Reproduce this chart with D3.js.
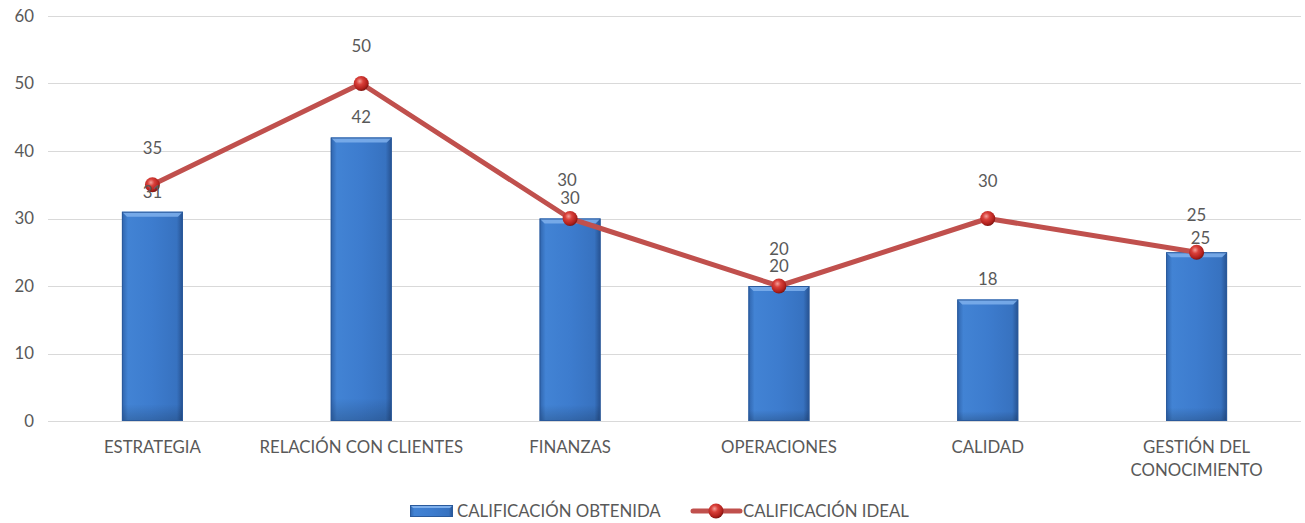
<!DOCTYPE html>
<html>
<head>
<meta charset="utf-8">
<script src="https://cdn.jsdelivr.net/npm/d3@7"></script>
<style>
  html, body { margin: 0; padding: 0; background: #fff; }
  svg { display: block; font-family: "Lato", "Open Sans", sans-serif; }
</style>
</head>
<body>
<svg id="chart" width="1305" height="523"></svg>
<script>
// Areas evaluated and their scores
const categories = [
  ["ESTRATEGIA"],
  ["RELACIÓN CON CLIENTES"],
  ["FINANZAS"],
  ["OPERACIONES"],
  ["CALIDAD"],
  ["GESTIÓN DEL", "CONOCIMIENTO"]
];
const obtained = [31, 42, 30, 20, 18, 25];
const ideal = [35, 50, 30, 20, 30, 25];
const yTicks = [0, 10, 20, 30, 40, 50, 60];
const seriesNames = ["CALIFICACIÓN OBTENIDA", "CALIFICACIÓN IDEAL"];

const svg = d3.select("#chart");
const margin = { top: 16, right: 4, bottom: 102, left: 48 };
const W = 1305, H = 523;
const x = d3.scaleBand()
  .domain(d3.range(categories.length))
  .range([margin.left, W - margin.right])
  .paddingInner(0).paddingOuter(0);
const y = d3.scaleLinear().domain([0, 60]).range([H - margin.bottom, margin.top]);

const textColor = "#595959";
const fontSize = 16.8;
const defs = svg.append("defs");

// Column fill: horizontal shading plus bevelled edges
const barGrad = defs.append("linearGradient").attr("id", "barGrad")
  .attr("x1", "0").attr("x2", "1").attr("y1", "0").attr("y2", "0");
[["0%", "#2f64ac"], ["10%", "#4283d4"], ["50%", "#3d7cce"], ["90%", "#3772c0"], ["100%", "#26518f"]]
  .forEach(([o, c]) => barGrad.append("stop").attr("offset", o).attr("stop-color", c));
const barGradV = defs.append("linearGradient").attr("id", "barGradV")
  .attr("x1", "0").attr("x2", "0").attr("y1", "0").attr("y2", "1");
[["0%", "#000000", 0.0], ["92%", "#000000", 0.0], ["100%", "#000000", 0.18]]
  .forEach(([o, c, a]) => barGradV.append("stop").attr("offset", o).attr("stop-color", c).attr("stop-opacity", a));

// Marker sphere
const ball = defs.append("radialGradient").attr("id", "ball")
  .attr("cx", "40%").attr("cy", "35%").attr("r", "65%");
[["0%", "#f4a09a"], ["35%", "#d9403a"], ["80%", "#b0201c"], ["100%", "#7e1512"]]
  .forEach(([o, c]) => ball.append("stop").attr("offset", o).attr("stop-color", c));

// Gridlines
svg.append("g")
  .selectAll("line").data(yTicks).join("line")
  .attr("x1", margin.left).attr("x2", W - margin.right)
  .attr("y1", d => Math.round(y(d)) + 0.5).attr("y2", d => Math.round(y(d)) + 0.5)
  .attr("stroke", "#d9d9d9").attr("stroke-width", 1);

// Y axis labels
const yAxis = d3.axisLeft(y).tickValues(yTicks).tickSize(0).tickPadding(14);
svg.append("g").attr("transform", `translate(${margin.left},0)`).call(yAxis)
  .call(g => g.select(".domain").remove())
  .call(g => g.selectAll("text").attr("fill", textColor).attr("font-size", fontSize).attr("font-family", "Lato, sans-serif"));

// Columns
const barW = 61;
const bars = svg.append("g");
obtained.forEach((v, i) => {
  const cx = x(i) + x.bandwidth() / 2;
  const x0 = cx - barW / 2, y0 = y(v), h = y(0) - y(v);
  bars.append("rect").attr("x", x0).attr("y", y0).attr("width", barW).attr("height", h)
    .attr("fill", "url(#barGrad)");
  bars.append("rect").attr("x", x0).attr("y", y0).attr("width", barW).attr("height", h)
    .attr("fill", "url(#barGradV)");
  // bevel: light top edge
  const b = 5;
  bars.append("polygon")
    .attr("points", [[x0, y0], [x0 + barW, y0], [x0 + barW - b, y0 + b], [x0 + b, y0 + b]].join(" "))
    .attr("fill", "#7fb0ec").attr("opacity", 0.85);
  bars.append("rect").attr("x", x0 + 0.5).attr("y", y0 + 0.5).attr("width", barW - 1).attr("height", h - 1)
    .attr("fill", "none").attr("stroke", "#2a5a9c").attr("stroke-width", 1);
});

// Ideal-score line
const line = d3.line()
  .x((d, i) => x(i) + x.bandwidth() / 2)
  .y(d => y(d));
svg.append("path").datum(ideal)
  .attr("d", line)
  .attr("fill", "none").attr("stroke", "#c0504d").attr("stroke-width", 5)
  .attr("stroke-linejoin", "round");
svg.append("g").selectAll("circle").data(ideal).join("circle")
  .attr("cx", (d, i) => x(i) + x.bandwidth() / 2)
  .attr("cy", d => y(d))
  .attr("r", 7.5)
  .attr("fill", "url(#ball)");

// Value labels; a few are nudged so stacked pairs stay legible
const barLabelNudge = { 5: [4, 6] };
const lineLabelNudge = { 2: [-3, -1] };
const lbl = svg.append("g").attr("fill", textColor).attr("font-size", fontSize)
  .attr("text-anchor", "middle").attr("font-family", "Lato, sans-serif");
obtained.forEach((v, i) => {
  const [dx, dy] = barLabelNudge[i] || [0, 0];
  lbl.append("text").attr("x", x(i) + x.bandwidth() / 2 + dx).attr("y", y(v) - 20 + dy)
    .attr("dy", "0.35em").text(v);
});
ideal.forEach((v, i) => {
  const [dx, dy] = lineLabelNudge[i] || [0, 0];
  lbl.append("text").attr("x", x(i) + x.bandwidth() / 2 + dx).attr("y", y(v) - 37 + dy)
    .attr("dy", "0.35em").text(v);
});

// Category labels
const cat = svg.append("g").attr("fill", textColor).attr("font-size", fontSize)
  .attr("text-anchor", "middle").attr("font-family", "Lato, sans-serif");
categories.forEach((lines, i) => {
  const t = cat.append("text").attr("x", x(i) + x.bandwidth() / 2).attr("y", 447).attr("dy", "0.35em");
  lines.forEach((s, k) => t.append("tspan").attr("x", x(i) + x.bandwidth() / 2).attr("dy", k === 0 ? "0.35em" : 23).text(s));
});

// Legend
const leg = svg.append("g").attr("font-size", fontSize).attr("fill", textColor).attr("font-family", "Lato, sans-serif");
leg.append("rect").attr("x", 410).attr("y", 505).attr("width", 43).attr("height", 12).attr("fill", "url(#barGrad)");
leg.append("polygon").attr("points", "410,505 453,505 450,508 413,508").attr("fill", "#7fb0ec");
leg.append("rect").attr("x", 410.5).attr("y", 505.5).attr("width", 42).attr("height", 11).attr("fill", "none").attr("stroke", "#2a5a9c");
leg.append("text").attr("x", 457).attr("y", 511).attr("dy", "0.35em").text(seriesNames[0]);
leg.append("line").attr("x1", 693).attr("x2", 740).attr("y1", 511).attr("y2", 511)
  .attr("stroke", "#c0504d").attr("stroke-width", 5).attr("stroke-linecap", "round");
leg.append("circle").attr("cx", 716).attr("cy", 511).attr("r", 7.5).attr("fill", "url(#ball)");
leg.append("text").attr("x", 743).attr("y", 511).attr("dy", "0.35em").text(seriesNames[1]);
</script>
</body>
</html>
